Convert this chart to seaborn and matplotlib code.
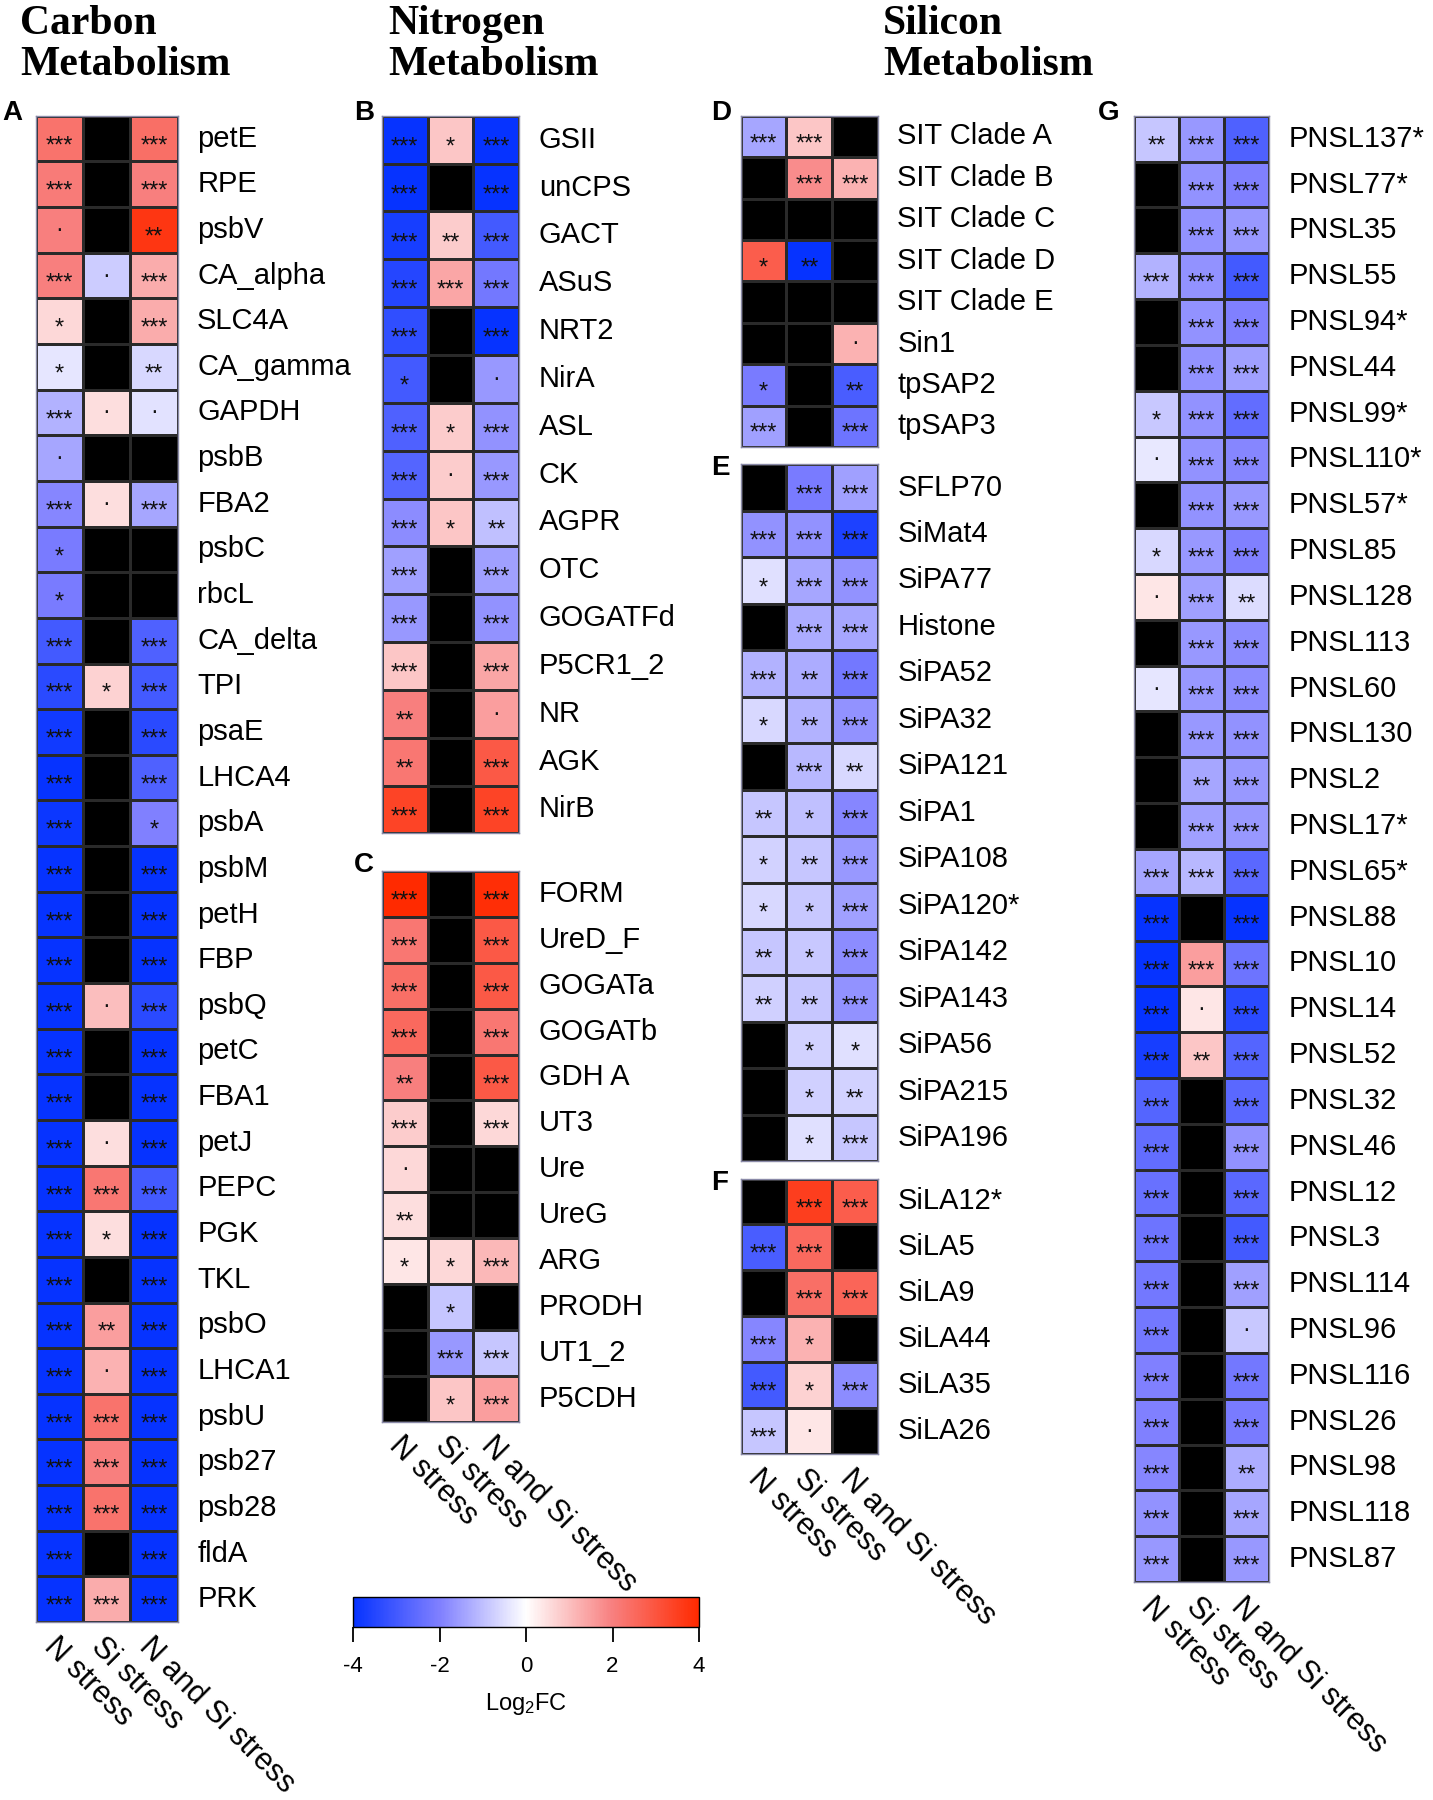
import numpy as np
import pandas as pd
import matplotlib
matplotlib.use("Agg")
import matplotlib.pyplot as plt
import matplotlib.transforms as mtransforms
import seaborn as sns
from matplotlib.colors import LinearSegmentedColormap

nan = np.nan
conditions = ["N stress", "Si stress", "N and Si stress"]

# ---------------- data (log2FC and significance) ----------------
# A - carbon metabolism
genes_a = ["petE", "RPE", "psbV", "CA_alpha", "SLC4A", "CA_gamma", "GAPDH", "psbB",
           "FBA2", "psbC", "rbcL", "CA_delta", "TPI", "psaE", "LHCA4", "psbA", "psbM",
           "petH", "FBP", "psbQ", "petC", "FBA1", "petJ", "PEPC", "PGK", "TKL", "psbO",
           "LHCA1", "psbU", "psb27", "psb28", "fldA", "PRK"]
fc_a = [[2.3, nan, 2.4], [2.1, nan, 2.0], [2.0, nan, 3.7], [2.0, -0.8, 1.3],
        [0.6, nan, 1.3], [-0.4, nan, -0.6], [-1.2, 0.5, -0.45], [-1.4, nan, nan],
        [-1.9, 0.5, -1.4], [-2.1, nan, nan], [-2.1, nan, nan], [-3.0, nan, -2.8],
        [-3.4, 0.7, -3.0], [-3.8, nan, -3.4], [-4.0, nan, -2.8], [-3.9, nan, -2.0],
        [-4.0, nan, -4.0], [-4.0, nan, -4.0], [-4.0, nan, -4.0], [-4.0, 1.0, -3.4],
        [-4.0, nan, -4.0], [-4.0, nan, -4.0], [-4.0, 0.5, -4.0], [-4.0, 2.2, -3.0],
        [-4.0, 0.5, -4.0], [-4.0, nan, -4.0], [-4.0, 1.5, -4.0], [-4.0, 1.2, -4.0],
        [-4.0, 2.3, -4.0], [-4.0, 2.0, -4.0], [-4.0, 2.3, -4.0], [-4.0, nan, -4.0],
        [-4.0, 1.3, -4.0]]
sig_a = [["***", "", "***"], ["***", "", "***"], ["·", "", "**"], ["***", "·", "***"],
         ["*", "", "***"], ["*", "", "**"], ["***", "·", "·"], ["·", "", ""],
         ["***", "·", "***"], ["*", "", ""], ["*", "", ""], ["***", "", "***"],
         ["***", "*", "***"], ["***", "", "***"], ["***", "", "***"], ["***", "", "*"],
         ["***", "", "***"], ["***", "", "***"], ["***", "", "***"], ["***", "·", "***"],
         ["***", "", "***"], ["***", "", "***"], ["***", "·", "***"], ["***", "***", "***"],
         ["***", "*", "***"], ["***", "", "***"], ["***", "**", "***"], ["***", "·", "***"],
         ["***", "***", "***"], ["***", "***", "***"], ["***", "***", "***"], ["***", "", "***"],
         ["***", "***", "***"]]

# B - nitrogen metabolism
genes_b = ["GSII", "unCPS", "GACT", "ASuS", "NRT2", "NirA", "ASL", "CK", "AGPR",
           "OTC", "GOGATFd", "P5CR1_2", "NR", "AGK", "NirB"]
fc_b = [[-4.0, 0.9, -4.0], [-4.0, nan, -4.0], [-3.7, 0.8, -3.0], [-3.5, 1.4, -2.2],
        [-3.3, nan, -4.0], [-3.0, nan, -1.6], [-2.8, 0.8, -1.7], [-2.7, 0.8, -1.6],
        [-1.8, 0.9, -1.0], [-1.5, nan, -1.5], [-1.6, nan, -1.7], [0.9, nan, 1.4],
        [2.0, nan, 1.5], [2.2, nan, 2.9], [3.4, nan, 3.4]]
sig_b = [["***", "*", "***"], ["***", "", "***"], ["***", "**", "***"], ["***", "***", "***"],
         ["***", "", "***"], ["*", "", "·"], ["***", "*", "***"], ["***", "·", "***"],
         ["***", "*", "**"], ["***", "", "***"], ["***", "", "***"], ["***", "", "***"],
         ["**", "", "·"], ["**", "", "***"], ["***", "", "***"]]

# C - nitrogen metabolism (urea cycle etc.)
genes_c = ["FORM", "UreD_F", "GOGATa", "GOGATb", "GDH A", "UT3", "Ure", "UreG",
           "ARG", "PRODH", "UT1_2", "P5CDH"]
fc_c = [[4.0, nan, 3.9], [2.2, nan, 2.9], [2.4, nan, 2.9], [2.5, nan, 2.2],
        [2.0, nan, 2.9], [0.8, nan, 0.6], [0.6, nan, nan], [0.5, nan, nan],
        [0.4, 0.6, 1.1], [nan, -0.9, nan], [nan, -1.6, -0.9], [nan, 0.9, 1.5]]
sig_c = [["***", "", "***"], ["***", "", "***"], ["***", "", "***"], ["***", "", "***"],
         ["**", "", "***"], ["***", "", "***"], ["·", "", ""], ["**", "", ""],
         ["*", "*", "***"], ["", "*", ""], ["", "***", "***"], ["", "*", "***"]]

# D - silicon transporters
genes_d = ["SIT Clade A", "SIT Clade B", "SIT Clade C", "SIT Clade D", "SIT Clade E",
           "Sin1", "tpSAP2", "tpSAP3"]
fc_d = [[-1.4, 0.9, nan], [nan, 1.8, 1.2], [nan, nan, nan], [2.8, -4.0, nan],
        [nan, nan, nan], [nan, nan, 1.2], [-2.1, nan, -2.9], [-1.5, nan, -2.3]]
sig_d = [["***", "***", ""], ["", "***", "***"], ["", "", ""], ["*", "**", ""],
         ["", "", ""], ["", "", "·"], ["*", "", "**"], ["***", "", "***"]]

# E - silaffins / SiPA
genes_e = ["SFLP70", "SiMat4", "SiPA77", "Histone", "SiPA52", "SiPA32", "SiPA121",
           "SiPA1", "SiPA108", "SiPA120*", "SiPA142", "SiPA143", "SiPA56", "SiPA215",
           "SiPA196"]
fc_e = [[nan, -2.1, -1.5], [-1.7, -1.7, -3.6], [-0.5, -1.4, -1.7], [nan, -1.3, -1.4],
        [-1.2, -1.3, -2.2], [-0.6, -1.2, -1.7], [nan, -1.1, -0.6], [-0.9, -1.0, -1.9],
        [-0.7, -0.9, -1.6], [-0.6, -0.85, -1.5], [-0.9, -0.85, -1.8], [-0.75, -0.9, -1.7],
        [nan, -0.7, -0.5], [nan, -0.75, -0.7], [nan, -0.5, -0.9]]
sig_e = [["", "***", "***"], ["***", "***", "***"], ["*", "***", "***"], ["", "***", "***"],
         ["***", "**", "***"], ["*", "**", "***"], ["", "***", "**"], ["**", "*", "***"],
         ["*", "**", "***"], ["*", "*", "***"], ["**", "*", "***"], ["**", "**", "***"],
         ["", "*", "*"], ["", "*", "**"], ["", "*", "***"]]

# F - SiLA
genes_f = ["SiLA12*", "SiLA5", "SiLA9", "SiLA44", "SiLA35", "SiLA26"]
fc_f = [[nan, 3.5, 2.8], [-2.9, 2.5, nan], [nan, 2.4, 2.6], [-1.9, 1.2, nan],
        [-3.0, 0.7, -1.8], [-0.9, 0.4, nan]]
sig_f = [["", "***", "***"], ["***", "***", ""], ["", "***", "***"], ["***", "*", ""],
         ["***", "*", "***"], ["***", "·", ""]]

# G - PNSL
genes_g = ["PNSL137*", "PNSL77*", "PNSL35", "PNSL55", "PNSL94*", "PNSL44", "PNSL99*",
           "PNSL110*", "PNSL57*", "PNSL85", "PNSL128", "PNSL113", "PNSL60", "PNSL130",
           "PNSL2", "PNSL17*", "PNSL65*", "PNSL88", "PNSL10", "PNSL14", "PNSL52",
           "PNSL32", "PNSL46", "PNSL12", "PNSL3", "PNSL114", "PNSL96", "PNSL116",
           "PNSL26", "PNSL98", "PNSL118", "PNSL87"]
fc_g = [[-0.9, -1.6, -2.8], [nan, -1.7, -2.0], [nan, -1.7, -1.6], [-1.2, -1.7, -3.0],
        [nan, -1.7, -2.0], [nan, -1.7, -1.5], [-0.85, -1.7, -2.5], [-0.35, -1.7, -1.9],
        [nan, -1.7, -1.6], [-0.6, -1.6, -2.0], [0.4, -1.5, -0.55], [nan, -1.6, -1.8],
        [-0.4, -1.6, -1.8], [nan, -1.6, -1.7], [nan, -1.4, -1.6], [nan, -1.5, -1.6],
        [-1.4, -1.1, -2.6], [-4.0, nan, -4.0], [-4.0, 1.5, -2.3], [-4.0, 0.4, -3.4],
        [-3.7, 0.9, -2.7], [-2.7, nan, -2.6], [-2.5, nan, -1.7], [-2.4, nan, -2.6],
        [-2.3, nan, -3.0], [-2.2, nan, -1.5], [-2.2, nan, -0.85], [-2.0, nan, -2.2],
        [-2.0, nan, -2.1], [-1.9, nan, -1.3], [-1.7, nan, -1.4], [-1.6, nan, -1.6]]
sig_g = [["**", "***", "***"], ["", "***", "***"], ["", "***", "***"], ["***", "***", "***"],
         ["", "***", "***"], ["", "***", "***"], ["*", "***", "***"], ["·", "***", "***"],
         ["", "***", "***"], ["*", "***", "***"], ["·", "***", "**"], ["", "***", "***"],
         ["·", "***", "***"], ["", "***", "***"], ["", "**", "***"], ["", "***", "***"],
         ["***", "***", "***"], ["***", "", "***"], ["***", "***", "***"], ["***", "·", "***"],
         ["***", "**", "***"], ["***", "", "***"], ["***", "", "***"], ["***", "", "***"],
         ["***", "", "***"], ["***", "", "***"], ["***", "", "·"], ["***", "", "***"],
         ["***", "", "***"], ["***", "", "**"], ["***", "", "***"], ["***", "", "***"]]

cbar_ticks = [-4, -2, 0, 2, 4]

# ---------------- style ----------------
plt.rcParams['font.family'] = ['Liberation Sans', 'DejaVu Sans']
plt.rcParams['mathtext.default'] = 'regular'
plt.rcParams['axes.unicode_minus'] = False

W, H = 1433, 1800
fig = plt.figure(figsize=(W / 100, H / 100), dpi=100)
fig.patch.set_facecolor("white")

cmap = LinearSegmentedColormap.from_list(
    "log2fc", [(0.0, "#0633ff"), (0.25, "#8080ff"), (0.5, "#ffffff"),
               (0.75, "#f88080"), (1.0, "#ff2a00")])


def px_axes(left, top, right, bottom):
    return fig.add_axes([left / W, 1 - bottom / H, (right - left) / W, (bottom - top) / H])


def draw_panel(box, genes, fc, sig, show_x=False, cbar_ax=None):
    ax = px_axes(*box)
    df = pd.DataFrame(fc, index=genes, columns=conditions)
    kws = dict(orientation="horizontal", ticks=cbar_ticks)
    sns.heatmap(df, ax=ax, cmap=cmap, vmin=-4, vmax=4,
                annot=np.array(sig), fmt="",
                annot_kws={"fontsize": 17, "color": "#111111"},
                linewidths=1.0, linecolor="#2a2a2a",
                cbar=cbar_ax is not None, cbar_ax=cbar_ax,
                cbar_kws=kws if cbar_ax is not None else None,
                xticklabels=conditions if show_x else False,
                yticklabels=genes)
    ax.set_facecolor("black")
    # stars sit high in the line box, nudge them down to the cell centre
    for t in ax.texts:
        if "*" in t.get_text():
            t.set_transform(mtransforms.offset_copy(t.get_transform(), fig,
                                                    y=-5.5, units="points"))
    ax.yaxis.tick_right()
    ax.tick_params(axis="y", length=0, pad=14, labelsize=21, labelright=True, labelleft=False)
    for lab in ax.get_yticklabels():
        lab.set_rotation(0)
        lab.set_va("center")
    if show_x:
        ax.tick_params(axis="x", length=0, pad=7)
        ax.set_xticklabels(conditions, rotation=-45, ha="left",
                           rotation_mode="anchor", fontsize=22)
    ax.set_xlabel("")
    ax.set_ylabel("")
    for sp in ax.spines.values():
        sp.set_visible(True)
        sp.set_color("#8a8aa8")
        sp.set_linewidth(1.0)
    return ax


draw_panel((35.5, 115.8, 177.7, 1622), genes_a, fc_a, sig_a, show_x=True)
draw_panel((381.8, 115.8, 519.3, 833.4), genes_b, fc_b, sig_b)
cax = px_axes(353, 1597, 699, 1627)
ax_c = draw_panel((381.8, 871, 519.3, 1421.5), genes_c, fc_c, sig_c, show_x=True, cbar_ax=cax)
draw_panel((740.6, 115.8, 878, 447), genes_d, fc_d, sig_d)
draw_panel((740.6, 464.3, 878, 1161.3), genes_e, fc_e, sig_e)
draw_panel((740.6, 1178.5, 878, 1453.6), genes_f, fc_f, sig_f, show_x=True)
draw_panel((1133.8, 115.8, 1269, 1582), genes_g, fc_g, sig_g, show_x=True)

# colorbar styling
cbar = ax_c.collections[0].colorbar
cbar.outline.set_edgecolor("black")
cbar.outline.set_linewidth(1.0)
cax.tick_params(axis="x", length=11, width=1.3, labelsize=16, pad=10, direction="out")
cax.set_xlabel("Log$_2$FC", fontsize=17, labelpad=10)

# section titles
titles = [(20, "Carbon\nMetabolism"), (388, "Nitrogen\nMetabolism"), (883, "Silicon\nMetabolism")]
for x, txt in titles:
    fig.text(x / W, 1 - 5 / H, txt, ha="left", va="top", fontsize=30,
             fontweight="bold", family=["Liberation Serif", "DejaVu Serif"],
             linespacing=1.12)

# panel letters
letters = [("A", 2, 120), ("B", 354, 120), ("C", 354, 872), ("D", 711, 120),
           ("E", 711, 475), ("F", 711, 1190), ("G", 1098, 120)]
for lt, x, y in letters:
    fig.text(x / W, 1 - y / H, lt, ha="left", va="baseline", fontsize=20, fontweight="bold")

fig.savefig("out.png", dpi=100)
